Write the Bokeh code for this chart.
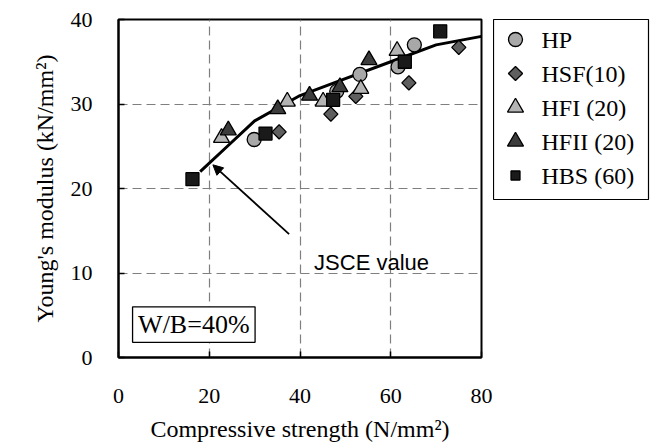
from bokeh.plotting import figure
from bokeh.layouts import row
from bokeh.models import (Range1d, FixedTicker, Label, Arrow, NormalHead,
                          BoxAnnotation)
from bokeh.core.properties import value
from bokeh.embed import file_html
from bokeh.resources import INLINE

# ---- data ----
hp_x = [29.9, 48.1, 53.2, 61.6, 65.2]
hp_y = [25.8, 31.5, 33.5, 34.4, 37.0]
hsf_x = [35.4, 46.8, 52.3, 64.0, 75.0]
hsf_y = [26.7, 28.8, 30.9, 32.5, 36.7]
hfi_x = [22.7, 37.2, 45.1, 53.4, 61.4]
hfi_y = [26.0, 30.3, 30.3, 31.8, 36.3]
hfii_x = [24.2, 35.1, 42.1, 48.8, 55.2]
hfii_y = [26.9, 29.4, 31.0, 32.0, 35.2]
hbs_x = [16.3, 32.4, 47.3, 63.1, 70.9]
hbs_y = [21.1, 26.5, 30.5, 35.0, 38.6]

jsce_x = [18, 24, 30, 40, 50, 60, 70, 80]
jsce_y = [22, 25, 28, 31, 33, 35, 37, 38]

x_ticks = [0, 20, 40, 60, 80]
y_ticks = [0, 10, 20, 30, 40]

series_labels = ["HP", "HSF(10)", "HFI (20)", "HFII (20)", "HBS (60)"]

SERIF = "Liberation Serif"
SANS = "Liberation Sans"
FS = "22px"
FS_TITLE = "24px"

# marker styles per series (plot size, legend size)
STYLES = [
    dict(marker="circle", angle=0.0, fill="#a8a8a8", size=14, lsize=14),
    dict(marker="square", angle=0.7853981634, fill="#5f5f5f", size=10, lsize=10),
    dict(marker="triangle", angle=0.0, fill="#b4b4b4", size=16, lsize=16),
    dict(marker="triangle", angle=0.0, fill="#3c3c3c", size=16, lsize=16),
    dict(marker="square", angle=0.0, fill="#1a1a1a", size=13, lsize=9),
]

p = figure(frame_width=363, frame_height=338,
           x_range=Range1d(0, 80), y_range=Range1d(0, 40),
           output_backend="svg", toolbar_location=None,
           min_border_left=118, min_border_right=12, min_border_top=19,
           min_border_bottom=89, background_fill_color="white",
           border_fill_color="white")

p.outline_line_color = "black"
p.outline_line_width = 2

for ax in (p.xaxis[0], p.yaxis[0]):
    ax.axis_line_color = "black"
    ax.axis_line_width = 2
    ax.major_tick_in = 6
    ax.major_tick_out = 0
    ax.major_tick_line_color = "black"
    ax.major_tick_line_width = 1.5
    ax.minor_tick_line_color = None
    ax.major_label_text_font = SERIF
    ax.major_label_text_font_size = FS
    ax.major_label_text_color = "black"
    ax.axis_label_text_font = SERIF
    ax.axis_label_text_font_size = FS_TITLE
    ax.axis_label_text_font_style = "normal"
    ax.axis_label_text_color = "black"

p.xaxis.ticker = FixedTicker(ticks=x_ticks)
p.yaxis.ticker = FixedTicker(ticks=y_ticks)
p.xaxis.axis_label = "Compressive strength (N/mm²)"
p.yaxis.axis_label = "Young's modulus (kN/mm²)"
p.xaxis.major_label_standoff = 31
p.yaxis.major_label_standoff = 26
p.xaxis.axis_label_standoff = 10
p.yaxis.axis_label_standoff = 10

for g in (p.xgrid[0], p.ygrid[0]):
    g.grid_line_color = "#7f7f7f"
    g.grid_line_dash = "9 5"
    g.grid_line_width = 1.2
p.xgrid.ticker = FixedTicker(ticks=x_ticks)
p.ygrid.ticker = FixedTicker(ticks=y_ticks)

# JSCE curve
p.line(jsce_x, jsce_y, line_color="black", line_width=3, line_join="round")

series_xy = [(hp_x, hp_y), (hsf_x, hsf_y), (hfi_x, hfi_y),
             (hfii_x, hfii_y), (hbs_x, hbs_y)]
for (xs, ys), st in zip(series_xy, STYLES):
    p.scatter(xs, ys, marker=st["marker"], angle=st["angle"], size=st["size"],
              fill_color=st["fill"], line_color="black", line_width=1.3)

# annotations
ARROW_START = (37.6, 14.6)
ARROW_END = (20.8, 22.8)
p.add_layout(Arrow(x_start=ARROW_START[0], y_start=ARROW_START[1],
                   x_end=ARROW_END[0], y_end=ARROW_END[1],
                   line_color="black", line_width=1.8,
                   end=NormalHead(size=10, fill_color="black", line_color="black")))

p.add_layout(Label(x=43.1, y=11.2, text="JSCE value", text_font=SANS,
                   text_font_size="22px", text_color="black",
                   text_baseline="alphabetic"))

p.add_layout(BoxAnnotation(left=3.1, right=30.1, bottom=1.8, top=6.0,
                           fill_color="white", fill_alpha=1.0,
                           line_color="black", line_alpha=1.0, line_width=1.3))
p.add_layout(Label(x=16.6, y=3.9, text="W/B=40%", text_font=SERIF,
                   text_font_size="26px", text_color="black",
                   text_align="center", text_baseline="middle"))

# ---- legend panel (separate small figure, frame = legend box) ----
LEG_W, LEG_H = 155, 180
leg = figure(frame_width=LEG_W, frame_height=LEG_H,
             x_range=Range1d(0, LEG_W), y_range=Range1d(LEG_H, 0),
             x_axis_type=None, y_axis_type=None,
             output_backend="svg", toolbar_location=None,
             min_border_left=0, min_border_right=10, min_border_top=19,
             min_border_bottom=247, background_fill_color="white",
             border_fill_color="white")
leg.grid.visible = False
leg.outline_line_color = "black"
leg.outline_line_width = 1.2

ROW0, ROW_STEP, GLYPH_X, TEXT_X = 20, 34, 22, 48
rows_y = [ROW0 + i * ROW_STEP for i in range(len(series_labels))]
for yy, st in zip(rows_y, STYLES):
    leg.scatter([GLYPH_X], [yy], marker=st["marker"], angle=st["angle"],
                size=st["lsize"], fill_color=st["fill"], line_color="black",
                line_width=1.3)
leg.text(x=[TEXT_X] * len(series_labels), y=rows_y, text=series_labels,
         text_font=value(SERIF), text_font_size="24px", text_color="black",
         text_baseline="middle", text_align="left")

layout = row(p, leg, spacing=0)
open("out.html", "w").write(file_html(layout, INLINE))
